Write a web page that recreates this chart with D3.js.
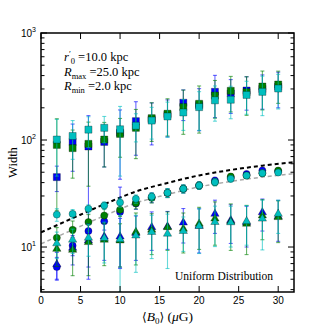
<!DOCTYPE html>
<html>
<head>
<meta charset="utf-8">
<script src="https://cdnjs.cloudflare.com/ajax/libs/d3/7.8.5/d3.min.js"></script>
<style>
  body { margin: 0; background: #fff; }
</style>
</head>
<body>
<div id="chart"></div>
<script>
// field strengths <B0> (muG)
const xs = [2, 4, 6, 8, 10, 12, 14, 16, 18, 20, 22, 24, 26, 28, 30];

// squares (upper family)
const sqBlue = [45, 96, 87, 96, 117, 150, 156, 172, 223, 212, 282, 272, 290, 300, 315];
const sqBlueErr = [12, 45, 82, 40, 74, 78, 66, 65, 71, 90, 120, 95, 100, 106, 115];
const sqGreen = [90, 84, 92, 101, 114, 130, 160, 176, 203, 218, 260, 288, 280, 316, 330];
const sqGreenErr = [68, 40, 55, 45, 45, 63, 63, 67, 90, 102, 100, 105, 110, 125, 110];
const sqCyan = [101, 109, 125, 130, 126, 136, 152, 166, 181, 203, 235, 238, 264, 282, 303];
const sqCyanErr = [55, 43, 40, 36, 80, 40, 50, 60, 58, 80, 85, 80, 90, 113, 108];

// circles (middle family)
const ciBlue = [6.5, 10.3, 14.1, 17.4, 21.3, 25.5, 29, 32, 35, 37.6, 41.8, 44.5, 48, 51.9, 51];
const ciBlueErr = [1.5, 2, 3, 3, 15, 3, 3, 3, 3, 3, 3, 3, 3, 3, 3];
const ciGreen = [12.2, 14.5, 17.1, 19.7, 22.3, 25.7, 28.8, 32, 35, 37.6, 40.4, 45.6, 46.6, 49, 51.9];
const ciGreenErr = [3, 3, 3, 3, 3, 3, 3, 3, 3, 3, 3, 3, 3, 3, 3];
const ciCyan = [20.1, 20.4, 22.8, 24.4, 26.1, 28.2, 29.6, 32.1, 35, 37.6, 40.4, 43.4, 46.6, 49, 49.7];
const ciCyanErr = [2.7, 2, 2, 2, 2.5, 2.5, 2.5, 3, 3, 3, 3, 3, 3, 3, 3];

// triangles (lower family)
const trBlue = [6.9, 9.8, 11.5, 12.5, 12.5, 13.5, 15.3, 15.5, 16.9, 15.8, 20.4, 17.8, 17.0, 21.1, 19.3];
const trBlueErr = [2, 3, 5, 5, 6, 6, 6, 6, 6, 7, 7, 7, 7, 7, 8];
const trGreen = [9.6, 9.4, 11.1, 11.7, 11.5, 13.8, 14.5, 15.3, 14.8, 16.5, 18.4, 17.3, 16.5, 19.7, 19.0];
const trGreenErr = [3, 4, 5.7, 5, 5, 7, 6, 6, 6, 7, 8, 8, 8, 8, 8];
const trCyan = [10.8, 11.7, 12.2, 12.1, 11.8, 12.8, 13.8, 13.3, 14.1, 15.7, 17.1, 17.0, 17.4, 18.4, 20.4];
const trCyanErr = [3, 3, 4, 5, 8, 7, 6, 7, 5, 7, 7, 7, 7, 9, 7];

// dashed reference curves
const curveX = [0, 4, 8, 12, 16, 20, 24, 28, 32];
const blackCurve = [13.7, 18.6, 25.1, 33.0, 39.7, 46.7, 52.5, 57.6, 62.1];
const grayCurve = [10.7, 14.5, 19.6, 25.8, 31.0, 36.5, 41.0, 45.0, 48.5];

const xTicks = [0, 5, 10, 15, 20, 25, 30];
const yTicks = [10, 100, 1000];

const W = 327, H = 327;
const pL = 41, pR = 294, pT = 33, pB = 292;

const colors = { blue: "#0000ff", green: "#008000", cyan: "#00bfbf" };

const svg = d3.select("#chart").append("svg")
  .attr("width", W).attr("height", H);

const x = d3.scaleLinear().domain([0, 32]).range([pL, pR]);
const y = d3.scaleLog().domain([3.8, 1000]).range([pB, pT]);

svg.append("clipPath").attr("id", "plot")
  .append("rect")
  .attr("x", pL).attr("y", pT)
  .attr("width", pR - pL).attr("height", pB - pT);

const plot = svg.append("g").attr("clip-path", "url(#plot)");

// dashed curves
const line = d3.line()
  .x((d, i) => x(curveX[i]))
  .y(d => y(d))
  .curve(d3.curveMonotoneX);

plot.append("path").datum(grayCurve)
  .attr("d", line).attr("fill", "none")
  .attr("stroke", "#a8a8a8").attr("stroke-width", 1.5)
  .attr("stroke-dasharray", "4,3");

plot.append("path").datum(blackCurve)
  .attr("d", line).attr("fill", "none")
  .attr("stroke", "#000").attr("stroke-width", 2)
  .attr("stroke-dasharray", "4,3");

const series = [
  { vals: sqBlue, err: sqBlueErr, c: colors.blue, sym: d3.symbolSquare, size: 50 },
  { vals: sqGreen, err: sqGreenErr, c: colors.green, sym: d3.symbolSquare, size: 50 },
  { vals: sqCyan, err: sqCyanErr, c: colors.cyan, sym: d3.symbolSquare, size: 50 },
  { vals: ciBlue, err: ciBlueErr, c: colors.blue, sym: d3.symbolCircle, size: 40 },
  { vals: ciGreen, err: ciGreenErr, c: colors.green, sym: d3.symbolCircle, size: 40 },
  { vals: ciCyan, err: ciCyanErr, c: colors.cyan, sym: d3.symbolCircle, size: 40 },
  { vals: trBlue, err: trBlueErr, c: colors.blue, sym: d3.symbolTriangle, size: 30 },
  { vals: trGreen, err: trGreenErr, c: colors.green, sym: d3.symbolTriangle, size: 30 },
  { vals: trCyan, err: trCyanErr, c: colors.cyan, sym: d3.symbolTriangle, size: 30 }
];

const yMin = y.domain()[0];

series.forEach(s => {
  const pts = xs.map((xv, i) => ({ x: xv, v: s.vals[i], e: s.err[i] }));
  const g = plot.append("g");
  const eb = g.append("g")
    .attr("stroke", s.c).attr("stroke-opacity", 0.6).attr("stroke-width", 1.1);
  pts.forEach(p => {
    const lo = Math.max(p.v - p.e, yMin * 0.5);
    const hi = p.v + p.e;
    const cx = x(p.x);
    eb.append("line")
      .attr("x1", cx).attr("x2", cx)
      .attr("y1", y(lo)).attr("y2", y(hi));
    eb.append("line")
      .attr("x1", cx - 2).attr("x2", cx + 2)
      .attr("y1", y(hi)).attr("y2", y(hi));
    if (p.v - p.e > 0) {
      eb.append("line")
        .attr("x1", cx - 2).attr("x2", cx + 2)
        .attr("y1", y(lo)).attr("y2", y(lo));
    }
  });
  g.selectAll("path.m").data(pts).enter().append("path")
    .attr("class", "m")
    .attr("d", d3.symbol().type(s.sym).size(s.size))
    .attr("transform", d => "translate(" + x(d.x) + "," + y(d.v) + ")")
    .attr("fill", s.c)
    .attr("stroke", "rgba(0,0,0,0.3)")
    .attr("stroke-width", 1);
});

// frame and ticks
const axes = svg.append("g").attr("stroke", "#000");
axes.append("rect")
  .attr("x", pL).attr("y", pT)
  .attr("width", pR - pL).attr("height", pB - pT)
  .attr("fill", "none").attr("stroke-width", 1.5);

xTicks.forEach(t => {
  axes.append("line").attr("x1", x(t)).attr("x2", x(t))
    .attr("y1", pB).attr("y2", pB - 6).attr("stroke-width", 1);
  axes.append("line").attr("x1", x(t)).attr("x2", x(t))
    .attr("y1", pT).attr("y2", pT + 6).attr("stroke-width", 1);
});

const minor = [];
[1, 10, 100].forEach(dec => {
  for (let k = 2; k <= 9; k++) {
    const v = k * dec;
    if (v >= yMin && v <= 1000) minor.push(v);
  }
});
minor.forEach(t => {
  axes.append("line").attr("x1", pL).attr("x2", pL + 3.5)
    .attr("y1", y(t)).attr("y2", y(t)).attr("stroke-width", 1);
  axes.append("line").attr("x1", pR).attr("x2", pR - 3.5)
    .attr("y1", y(t)).attr("y2", y(t)).attr("stroke-width", 1);
});
yTicks.forEach(t => {
  axes.append("line").attr("x1", pL).attr("x2", pL + 6)
    .attr("y1", y(t)).attr("y2", y(t)).attr("stroke-width", 1);
  axes.append("line").attr("x1", pR).attr("x2", pR - 6)
    .attr("y1", y(t)).attr("y2", y(t)).attr("stroke-width", 1);
});

// tick labels
const sans = "'Liberation Sans', Arial, sans-serif";
const serif = "'Liberation Serif', 'DejaVu Serif', serif";

svg.append("g").selectAll("text").data(xTicks).enter().append("text")
  .attr("x", d => x(d)).attr("y", pB + 12)
  .attr("text-anchor", "middle")
  .attr("font-family", sans).attr("font-size", 10)
  .text(d => d);

yTicks.forEach(t => {
  const tx = svg.append("text")
    .attr("x", pL - 5).attr("y", y(t) + 3.5)
    .attr("text-anchor", "end")
    .attr("font-family", sans).attr("font-size", 10);
  tx.append("tspan").text("10");
  tx.append("tspan").attr("dy", -5).attr("font-size", 7).text(Math.round(Math.log10(t)));
});

// axis labels
svg.append("text")
  .attr("transform", "translate(17," + ((pT + pB) / 2) + ") rotate(-90)")
  .attr("text-anchor", "middle")
  .attr("font-family", serif).attr("font-size", 12.5)
  .text("Width");

const xl = svg.append("text")
  .attr("x", (pL + pR) / 2).attr("y", 321)
  .attr("text-anchor", "middle")
  .attr("font-family", serif).attr("font-size", 13.5);
xl.append("tspan").attr("font-family", "'DejaVu Serif', serif").attr("font-size", 12).text("\u27E8");
xl.append("tspan").attr("font-style", "italic").text("B");
xl.append("tspan").attr("dy", 3).attr("font-size", 9).text("0");
xl.append("tspan").attr("dy", -3).attr("font-family", "'DejaVu Serif', serif").attr("font-size", 12).text("\u27E9");
xl.append("tspan").text(" (");
xl.append("tspan").attr("font-style", "italic").text("\u03BC");
xl.append("tspan").text("G)");

// annotations
const ann = svg.append("g").attr("font-family", serif).attr("font-size", 12.5);
const a1 = ann.append("text").attr("x", 64).attr("y", 61);
a1.append("tspan").attr("font-style", "italic").text("r");
a1.append("tspan").attr("dy", -4.5).attr("font-size", 8.5).text("\u2032");
a1.append("tspan").attr("dy", 7.5).attr("font-size", 8.5).text("0");
a1.append("tspan").attr("dy", -3).text(" =10.0 kpc");

[["max", "=25.0 kpc", 75.5], ["min", "=2.0 kpc", 90]].forEach(r => {
  const t = ann.append("text").attr("x", 64).attr("y", r[2]);
  t.append("tspan").attr("font-style", "italic").text("R");
  t.append("tspan").attr("dy", 3).attr("font-size", 8.5).text(r[0]);
  t.append("tspan").attr("dy", -3).text(" " + r[1]);
});

svg.append("text")
  .attr("x", 224).attr("y", 280)
  .attr("text-anchor", "middle")
  .attr("font-family", serif).attr("font-size", 11.5)
  .text("Uniform Distribution");
</script>
</body>
</html>
